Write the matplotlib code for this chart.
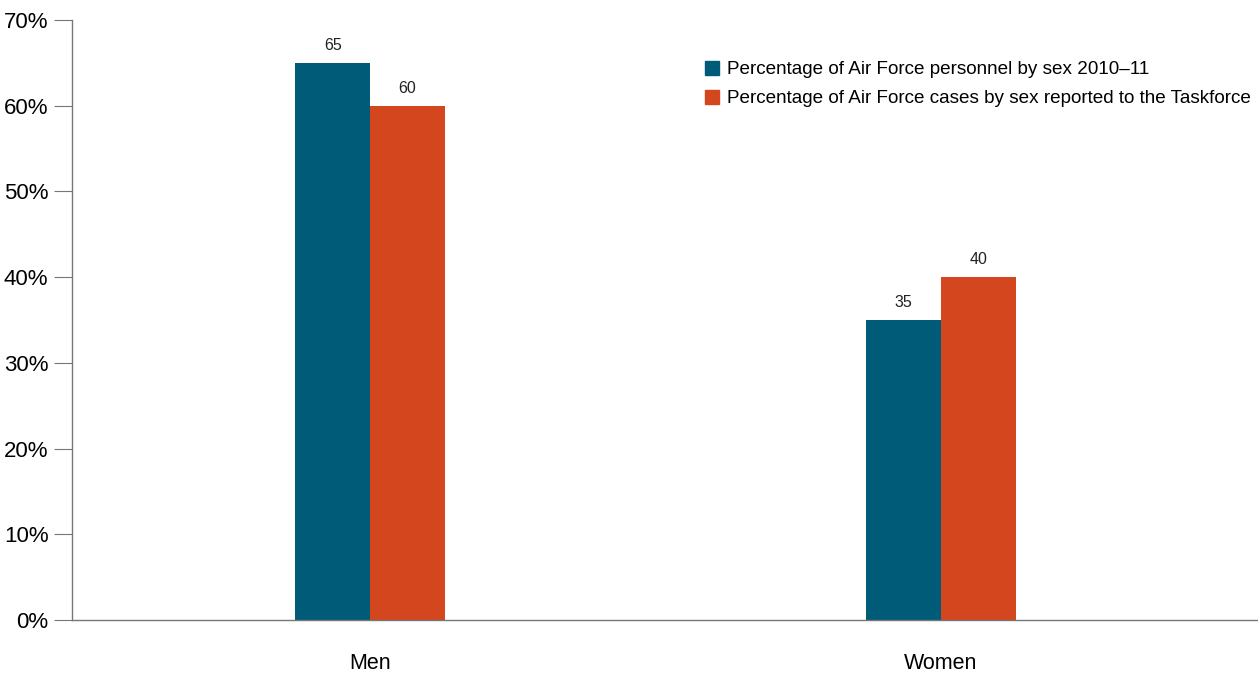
import numpy as np
import matplotlib.pyplot as plt
from matplotlib.patches import Patch

plt.rcParams['font.family'] = ['Liberation Sans', 'DejaVu Sans']

# Data
categories = ['Men', 'Women']
personnel = [65, 35]
cases = [60, 40]
series_names = ['Percentage of Air Force personnel by sex 2010\u201311',
                'Percentage of Air Force cases by sex reported to the Taskforce']
colors = ['#005b78', '#d4461e']

fig = plt.figure(figsize=(12.58, 6.74), dpi=100)
ax = fig.add_axes([72 / 1258, 54 / 674, 1186 / 1258, 600 / 674])

x = np.arange(len(categories))
w = 0.131
b1 = ax.bar(x - w / 2, personnel, w, color=colors[0])
b2 = ax.bar(x + w / 2, cases, w, color=colors[1])

# value labels above bars
for bars, vals in ((b1, personnel), (b2, cases)):
    for rect, v in zip(bars, vals):
        ax.annotate(str(v), (rect.get_x() + rect.get_width() / 2, v),
                    xytext=(0, 7), textcoords='offset points',
                    ha='center', va='bottom', fontsize=11.5, color='#222222')

ax.set_xlim(-0.522, 1.555)
ax.set_ylim(0, 70)
ax.set_yticks(range(0, 71, 10))
ax.set_yticklabels(['%d%%' % t for t in range(0, 71, 10)])
ax.set_xticks(x)
ax.set_xticklabels(categories)

for s in ('top', 'right'):
    ax.spines[s].set_visible(False)
for s in ('left', 'bottom'):
    ax.spines[s].set_color('#777777')
    ax.spines[s].set_linewidth(1.0)

ax.tick_params(axis='y', length=13, color='#777777', labelsize=16, pad=4)
ax.tick_params(axis='x', length=0, labelsize=15.5, pad=24)

handles = [Patch(color=c) for c in colors]
ax.legend(handles, series_names, loc='upper left', bbox_to_anchor=(0.5275, 0.945),
          frameon=False, fontsize=13.6, handlelength=0.75, handleheight=0.8,
          handletextpad=0.4, labelspacing=0.6, borderaxespad=0)

fig.savefig('out.png', dpi=100)
